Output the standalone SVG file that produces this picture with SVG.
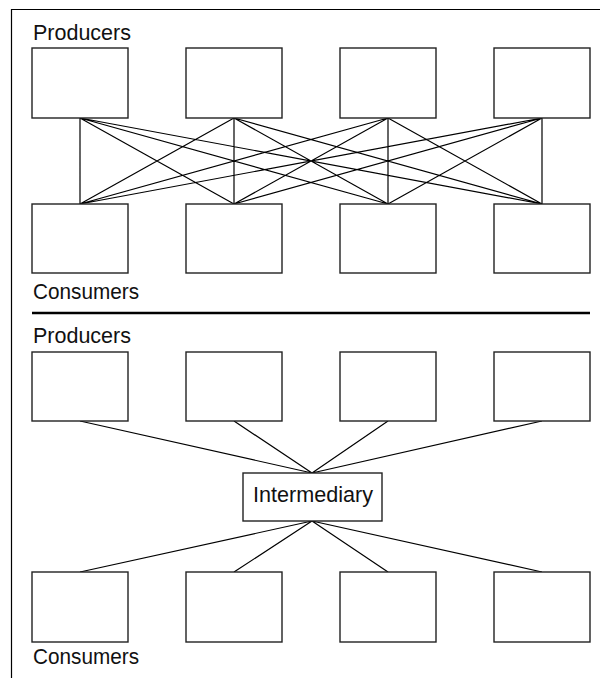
<svg xmlns="http://www.w3.org/2000/svg" width="600" height="678" viewBox="0 0 600 678">
<style>
.box{fill:#fff;stroke:#222;stroke-width:1.4}
.ln{stroke:#000;stroke-width:1.2;fill:none}
.lbl{font-family:"Liberation Sans Narrow","Liberation Sans",Arial,sans-serif;font-size:22px;fill:#111}
</style>
<rect width="600" height="678" fill="#fff"/>
<path d="M11.5,678 V9.5 H600" class="ln" stroke="#333"/>
<line x1="32" y1="313" x2="590" y2="313" stroke="#000" stroke-width="2.5"/>
<text class="lbl" x="33" y="40" textLength="98" lengthAdjust="spacingAndGlyphs">Producers</text>
<text class="lbl" x="33" y="299" textLength="106" lengthAdjust="spacingAndGlyphs">Consumers</text>
<text class="lbl" x="33" y="343" textLength="98" lengthAdjust="spacingAndGlyphs">Producers</text>
<text class="lbl" x="33" y="664" textLength="106" lengthAdjust="spacingAndGlyphs">Consumers</text>
<g id="connectors" class="ln">
<path d="M80,118 L80,204 M80,118 L234,204 M80,118 L388,204 M80,118 L542,204
M234,118 L80,204 M234,118 L234,204 M234,118 L388,204 M234,118 L542,204
M388,118 L80,204 M388,118 L234,204 M388,118 L388,204 M388,118 L542,204
M542,118 L80,204 M542,118 L234,204 M542,118 L388,204 M542,118 L542,204"/>
<path d="M80,421 L312,473 M234,421 L312,473 M388,421 L312,473 M542,421 L312,473
M312,521 L80,572 M312,521 L234,572 M312,521 L388,572 M312,521 L542,572"/>
</g>
<g id="p1"><rect class="box" x="32" y="48" width="96" height="70"/></g>
<g id="p2"><rect class="box" x="186" y="48" width="96" height="70"/></g>
<g id="p3"><rect class="box" x="340" y="48" width="96" height="70"/></g>
<g id="p4"><rect class="box" x="494" y="48" width="96" height="70"/></g>
<g id="c1"><rect class="box" x="32" y="204" width="96" height="69"/></g>
<g id="c2"><rect class="box" x="186" y="204" width="96" height="69"/></g>
<g id="c3"><rect class="box" x="340" y="204" width="96" height="69"/></g>
<g id="c4"><rect class="box" x="494" y="204" width="96" height="69"/></g>
<g id="p5"><rect class="box" x="32" y="352" width="96" height="69"/></g>
<g id="p6"><rect class="box" x="186" y="352" width="96" height="69"/></g>
<g id="p7"><rect class="box" x="340" y="352" width="96" height="69"/></g>
<g id="p8"><rect class="box" x="494" y="352" width="96" height="69"/></g>
<g id="intermediary"><rect class="box" x="243" y="473" width="139" height="48"/>
<text class="lbl" x="253" y="502" textLength="120" lengthAdjust="spacingAndGlyphs">Intermediary</text></g>
<g id="c5"><rect class="box" x="32" y="572" width="96" height="70"/></g>
<g id="c6"><rect class="box" x="186" y="572" width="96" height="70"/></g>
<g id="c7"><rect class="box" x="340" y="572" width="96" height="70"/></g>
<g id="c8"><rect class="box" x="494" y="572" width="96" height="70"/></g>
</svg>
